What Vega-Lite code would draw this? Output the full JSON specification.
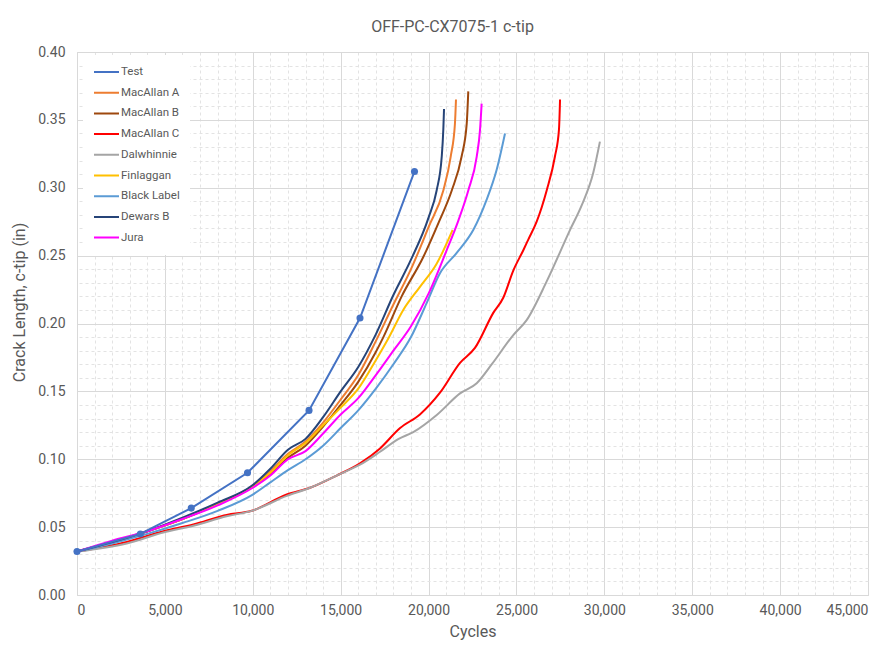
{
  "$schema": "https://vega.github.io/schema/vega-lite/v6.json",
  "width": 791,
  "height": 543,
  "autosize": {"type": "none"},
  "padding": {"left": 77, "top": 52, "right": 17, "bottom": 53},
  "background": "white",
  "title": {"text": "OFF-PC-CX7075-1 c-tip", "font": "Roboto", "fontSize": 16, "fontWeight": "normal", "color": "#595959", "anchor": "middle", "dx": -20, "offset": 10},
  "config": {
    "font": "Roboto",
    "view": {"stroke": "#d9d9d9", "strokeWidth": 1},
    "axis": {"labelFont": "Roboto", "titleFont": "Roboto", "labelColor": "#595959", "titleColor": "#595959", "labelFontSize": 14, "titleFontSize": 16, "titleFontWeight": "normal", "gridColor": "#d9d9d9", "gridWidth": 1, "domainColor": "#d9d9d9", "ticks": false}
  },
  "datasets": {
    "crack": [
      {"series": "Test", "cycles": 0, "c": 0.032},
      {"series": "Test", "cycles": 3600, "c": 0.045},
      {"series": "Test", "cycles": 6500, "c": 0.064},
      {"series": "Test", "cycles": 9700, "c": 0.090},
      {"series": "Test", "cycles": 13200, "c": 0.136},
      {"series": "Test", "cycles": 16100, "c": 0.204},
      {"series": "Test", "cycles": 19200, "c": 0.312},

      {"series": "MacAllan A", "cycles": 0, "c": 0.032},
      {"series": "MacAllan A", "cycles": 2000, "c": 0.039},
      {"series": "MacAllan A", "cycles": 4000, "c": 0.047},
      {"series": "MacAllan A", "cycles": 6000, "c": 0.056},
      {"series": "MacAllan A", "cycles": 8000, "c": 0.067},
      {"series": "MacAllan A", "cycles": 10000, "c": 0.080},
      {"series": "MacAllan A", "cycles": 11000, "c": 0.091},
      {"series": "MacAllan A", "cycles": 12000, "c": 0.104},
      {"series": "MacAllan A", "cycles": 13000, "c": 0.113},
      {"series": "MacAllan A", "cycles": 14000, "c": 0.127},
      {"series": "MacAllan A", "cycles": 15000, "c": 0.144},
      {"series": "MacAllan A", "cycles": 16000, "c": 0.162},
      {"series": "MacAllan A", "cycles": 17000, "c": 0.187},
      {"series": "MacAllan A", "cycles": 18000, "c": 0.214},
      {"series": "MacAllan A", "cycles": 19000, "c": 0.240},
      {"series": "MacAllan A", "cycles": 20000, "c": 0.271},
      {"series": "MacAllan A", "cycles": 20840, "c": 0.298},
      {"series": "MacAllan A", "cycles": 21260, "c": 0.323},
      {"series": "MacAllan A", "cycles": 21500, "c": 0.347},
      {"series": "MacAllan A", "cycles": 21560, "c": 0.365},

      {"series": "MacAllan B", "cycles": 0, "c": 0.032},
      {"series": "MacAllan B", "cycles": 2000, "c": 0.039},
      {"series": "MacAllan B", "cycles": 4000, "c": 0.047},
      {"series": "MacAllan B", "cycles": 6000, "c": 0.056},
      {"series": "MacAllan B", "cycles": 8000, "c": 0.067},
      {"series": "MacAllan B", "cycles": 10000, "c": 0.080},
      {"series": "MacAllan B", "cycles": 11000, "c": 0.089},
      {"series": "MacAllan B", "cycles": 12000, "c": 0.101},
      {"series": "MacAllan B", "cycles": 13000, "c": 0.110},
      {"series": "MacAllan B", "cycles": 14000, "c": 0.124},
      {"series": "MacAllan B", "cycles": 15000, "c": 0.140},
      {"series": "MacAllan B", "cycles": 16000, "c": 0.157},
      {"series": "MacAllan B", "cycles": 17000, "c": 0.179},
      {"series": "MacAllan B", "cycles": 17430, "c": 0.190},
      {"series": "MacAllan B", "cycles": 18470, "c": 0.220},
      {"series": "MacAllan B", "cycles": 19700, "c": 0.249},
      {"series": "MacAllan B", "cycles": 20560, "c": 0.274},
      {"series": "MacAllan B", "cycles": 21320, "c": 0.298},
      {"series": "MacAllan B", "cycles": 21880, "c": 0.323},
      {"series": "MacAllan B", "cycles": 22170, "c": 0.347},
      {"series": "MacAllan B", "cycles": 22260, "c": 0.371},

      {"series": "MacAllan C", "cycles": 0, "c": 0.032},
      {"series": "MacAllan C", "cycles": 2830, "c": 0.039},
      {"series": "MacAllan C", "cycles": 4910, "c": 0.047},
      {"series": "MacAllan C", "cycles": 6620, "c": 0.052},
      {"series": "MacAllan C", "cycles": 8510, "c": 0.059},
      {"series": "MacAllan C", "cycles": 9940, "c": 0.062},
      {"series": "MacAllan C", "cycles": 11930, "c": 0.074},
      {"series": "MacAllan C", "cycles": 13260, "c": 0.079},
      {"series": "MacAllan C", "cycles": 14770, "c": 0.088},
      {"series": "MacAllan C", "cycles": 16100, "c": 0.097},
      {"series": "MacAllan C", "cycles": 17240, "c": 0.108},
      {"series": "MacAllan C", "cycles": 18380, "c": 0.123},
      {"series": "MacAllan C", "cycles": 19510, "c": 0.133},
      {"series": "MacAllan C", "cycles": 20650, "c": 0.149},
      {"series": "MacAllan C", "cycles": 21790, "c": 0.171},
      {"series": "MacAllan C", "cycles": 22640, "c": 0.182},
      {"series": "MacAllan C", "cycles": 23690, "c": 0.208},
      {"series": "MacAllan C", "cycles": 24250, "c": 0.219},
      {"series": "MacAllan C", "cycles": 24820, "c": 0.239},
      {"series": "MacAllan C", "cycles": 25390, "c": 0.254},
      {"series": "MacAllan C", "cycles": 25680, "c": 0.262},
      {"series": "MacAllan C", "cycles": 26150, "c": 0.275},
      {"series": "MacAllan C", "cycles": 26720, "c": 0.298},
      {"series": "MacAllan C", "cycles": 27190, "c": 0.323},
      {"series": "MacAllan C", "cycles": 27420, "c": 0.343},
      {"series": "MacAllan C", "cycles": 27480, "c": 0.365},

      {"series": "Dalwhinnie", "cycles": 0, "c": 0.032},
      {"series": "Dalwhinnie", "cycles": 2830, "c": 0.038},
      {"series": "Dalwhinnie", "cycles": 4910, "c": 0.046},
      {"series": "Dalwhinnie", "cycles": 6620, "c": 0.051},
      {"series": "Dalwhinnie", "cycles": 8510, "c": 0.058},
      {"series": "Dalwhinnie", "cycles": 9940, "c": 0.062},
      {"series": "Dalwhinnie", "cycles": 11930, "c": 0.073},
      {"series": "Dalwhinnie", "cycles": 13260, "c": 0.079},
      {"series": "Dalwhinnie", "cycles": 14770, "c": 0.088},
      {"series": "Dalwhinnie", "cycles": 16100, "c": 0.096},
      {"series": "Dalwhinnie", "cycles": 17240, "c": 0.1055},
      {"series": "Dalwhinnie", "cycles": 18300, "c": 0.115},
      {"series": "Dalwhinnie", "cycles": 19130, "c": 0.120},
      {"series": "Dalwhinnie", "cycles": 20500, "c": 0.133},
      {"series": "Dalwhinnie", "cycles": 21790, "c": 0.1485},
      {"series": "Dalwhinnie", "cycles": 22740, "c": 0.156},
      {"series": "Dalwhinnie", "cycles": 23600, "c": 0.170},
      {"series": "Dalwhinnie", "cycles": 24820, "c": 0.1915},
      {"series": "Dalwhinnie", "cycles": 25580, "c": 0.2025},
      {"series": "Dalwhinnie", "cycles": 26720, "c": 0.231},
      {"series": "Dalwhinnie", "cycles": 28050, "c": 0.269},
      {"series": "Dalwhinnie", "cycles": 28710, "c": 0.287},
      {"series": "Dalwhinnie", "cycles": 29370, "c": 0.311},
      {"series": "Dalwhinnie", "cycles": 29750, "c": 0.334},

      {"series": "Finlaggan", "cycles": 0, "c": 0.032},
      {"series": "Finlaggan", "cycles": 2000, "c": 0.039},
      {"series": "Finlaggan", "cycles": 4000, "c": 0.047},
      {"series": "Finlaggan", "cycles": 6000, "c": 0.056},
      {"series": "Finlaggan", "cycles": 8000, "c": 0.067},
      {"series": "Finlaggan", "cycles": 10000, "c": 0.080},
      {"series": "Finlaggan", "cycles": 11000, "c": 0.090},
      {"series": "Finlaggan", "cycles": 12000, "c": 0.103},
      {"series": "Finlaggan", "cycles": 13000, "c": 0.112},
      {"series": "Finlaggan", "cycles": 14000, "c": 0.125},
      {"series": "Finlaggan", "cycles": 15000, "c": 0.138},
      {"series": "Finlaggan", "cycles": 16000, "c": 0.152},
      {"series": "Finlaggan", "cycles": 17000, "c": 0.173},
      {"series": "Finlaggan", "cycles": 17710, "c": 0.189},
      {"series": "Finlaggan", "cycles": 18560, "c": 0.210},
      {"series": "Finlaggan", "cycles": 19510, "c": 0.227},
      {"series": "Finlaggan", "cycles": 20460, "c": 0.244},
      {"series": "Finlaggan", "cycles": 21370, "c": 0.269},

      {"series": "Black Label", "cycles": 0, "c": 0.032},
      {"series": "Black Label", "cycles": 2000, "c": 0.038},
      {"series": "Black Label", "cycles": 4000, "c": 0.045},
      {"series": "Black Label", "cycles": 6000, "c": 0.053},
      {"series": "Black Label", "cycles": 8000, "c": 0.062},
      {"series": "Black Label", "cycles": 10000, "c": 0.074},
      {"series": "Black Label", "cycles": 11000, "c": 0.083},
      {"series": "Black Label", "cycles": 12000, "c": 0.092},
      {"series": "Black Label", "cycles": 13000, "c": 0.100},
      {"series": "Black Label", "cycles": 14000, "c": 0.110},
      {"series": "Black Label", "cycles": 15000, "c": 0.123},
      {"series": "Black Label", "cycles": 16000, "c": 0.136},
      {"series": "Black Label", "cycles": 17000, "c": 0.152},
      {"series": "Black Label", "cycles": 18000, "c": 0.170},
      {"series": "Black Label", "cycles": 19000, "c": 0.190},
      {"series": "Black Label", "cycles": 19890, "c": 0.215},
      {"series": "Black Label", "cycles": 20650, "c": 0.237},
      {"series": "Black Label", "cycles": 21600, "c": 0.252},
      {"series": "Black Label", "cycles": 22550, "c": 0.269},
      {"series": "Black Label", "cycles": 23300, "c": 0.291},
      {"series": "Black Label", "cycles": 23870, "c": 0.313},
      {"series": "Black Label", "cycles": 24350, "c": 0.340},

      {"series": "Dewars B", "cycles": 0, "c": 0.032},
      {"series": "Dewars B", "cycles": 2000, "c": 0.039},
      {"series": "Dewars B", "cycles": 4000, "c": 0.047},
      {"series": "Dewars B", "cycles": 6000, "c": 0.057},
      {"series": "Dewars B", "cycles": 8000, "c": 0.068},
      {"series": "Dewars B", "cycles": 10000, "c": 0.081},
      {"series": "Dewars B", "cycles": 11000, "c": 0.093},
      {"series": "Dewars B", "cycles": 12000, "c": 0.107},
      {"series": "Dewars B", "cycles": 13000, "c": 0.115},
      {"series": "Dewars B", "cycles": 14000, "c": 0.131},
      {"series": "Dewars B", "cycles": 15000, "c": 0.150},
      {"series": "Dewars B", "cycles": 16000, "c": 0.168},
      {"series": "Dewars B", "cycles": 17000, "c": 0.192},
      {"series": "Dewars B", "cycles": 18000, "c": 0.221},
      {"series": "Dewars B", "cycles": 19000, "c": 0.247},
      {"series": "Dewars B", "cycles": 20000, "c": 0.278},
      {"series": "Dewars B", "cycles": 20460, "c": 0.298},
      {"series": "Dewars B", "cycles": 20750, "c": 0.323},
      {"series": "Dewars B", "cycles": 20840, "c": 0.343},
      {"series": "Dewars B", "cycles": 20880, "c": 0.358},

      {"series": "Jura", "cycles": 0, "c": 0.032},
      {"series": "Jura", "cycles": 2000, "c": 0.040},
      {"series": "Jura", "cycles": 4000, "c": 0.047},
      {"series": "Jura", "cycles": 6000, "c": 0.056},
      {"series": "Jura", "cycles": 8000, "c": 0.066},
      {"series": "Jura", "cycles": 10000, "c": 0.079},
      {"series": "Jura", "cycles": 11000, "c": 0.088},
      {"series": "Jura", "cycles": 12000, "c": 0.100},
      {"series": "Jura", "cycles": 13000, "c": 0.106},
      {"series": "Jura", "cycles": 14000, "c": 0.119},
      {"series": "Jura", "cycles": 15000, "c": 0.133},
      {"series": "Jura", "cycles": 16000, "c": 0.145},
      {"series": "Jura", "cycles": 17000, "c": 0.162},
      {"series": "Jura", "cycles": 18000, "c": 0.180},
      {"series": "Jura", "cycles": 19000, "c": 0.198},
      {"series": "Jura", "cycles": 20000, "c": 0.222},
      {"series": "Jura", "cycles": 21000, "c": 0.253},
      {"series": "Jura", "cycles": 21700, "c": 0.276},
      {"series": "Jura", "cycles": 22260, "c": 0.298},
      {"series": "Jura", "cycles": 22740, "c": 0.323},
      {"series": "Jura", "cycles": 22930, "c": 0.343},
      {"series": "Jura", "cycles": 23020, "c": 0.362}
    ]
  },
  "data": {"name": "crack"},
  "layer": [
    {
      "transform": [{"filter": "datum.series !== 'Test'"}],
      "mark": {"type": "line", "strokeWidth": 2, "interpolate": "monotone"},
      "encoding": {
        "x": {"field": "cycles", "type": "quantitative", "scale": {"domain": [0, 45000], "nice": false}, "axis": {"title": "Cycles", "values": [0,5000,10000,15000,20000,25000,30000,35000,40000,45000], "format": ",.0f", "labelPadding": 8, "titlePadding": 6, "gridColor": "#d9d9d9"}},
        "y": {"field": "c", "type": "quantitative", "scale": {"domain": [0, 0.4], "nice": false}, "axis": {"title": "Crack Length, c-tip (in)", "values": [0,0.05,0.1,0.15,0.2,0.25,0.3,0.35,0.4], "format": ".2f", "labelPadding": 12, "titlePadding": 10, "titleY": 250, "domain": false}},
        "color": {"field": "series", "type": "nominal", "sort": null,
          "scale": {"domain": ["Test","MacAllan A","MacAllan B","MacAllan C","Dalwhinnie","Finlaggan","Black Label","Dewars B","Jura"],
                    "range": ["#4472C4","#ED7D31","#9E480E","#FF0000","#A5A5A5","#FFC000","#5B9BD5","#264478","#FF00FF"]},
          "legend": {"title": null, "orient": "none", "legendX": 6, "legendY": 3, "padding": 10, "fillColor": "white", "symbolType": "stroke", "symbolSize": 625, "symbolStrokeWidth": 2, "labelFont": "Roboto", "labelFontSize": 11.5, "labelColor": "#595959", "labelOffset": 1, "clipHeight": 14, "rowPadding": 6.7}},
        "order": {"field": "cycles", "type": "quantitative"}
      }
    },
    {
      "transform": [{"filter": "datum.series === 'Test'"}],
      "mark": {"type": "line", "strokeWidth": 2},
      "encoding": {
        "x": {"field": "cycles", "type": "quantitative", "axis": null},
        "y": {"field": "c", "type": "quantitative", "axis": null},
        "color": {"field": "series", "type": "nominal", "sort": null},
        "order": {"field": "cycles", "type": "quantitative"}
      }
    },
    {
      "transform": [{"filter": "datum.series === 'Test'"}],
      "mark": {"type": "point", "filled": true, "size": 50, "opacity": 1, "color": "#4472C4"},
      "encoding": {
        "x": {"field": "cycles", "type": "quantitative", "axis": {"orient": "top", "values": [1000,2000,3000,4000,6000,7000,8000,9000,11000,12000,13000,14000,16000,17000,18000,19000,21000,22000,23000,24000,26000,27000,28000,29000,31000,32000,33000,34000,36000,37000,38000,39000,41000,42000,43000,44000], "labels": false, "domain": false, "ticks": false, "title": null, "grid": true, "gridColor": "#e3e3e3", "gridDash": [3,3]}},
        "y": {"field": "c", "type": "quantitative", "axis": {"orient": "right", "values": [0.01,0.02,0.03,0.04,0.06,0.07,0.08,0.09,0.11,0.12,0.13,0.14,0.16,0.17,0.18,0.19,0.21,0.22,0.23,0.24,0.26,0.27,0.28,0.29,0.31,0.32,0.33,0.34,0.36,0.37,0.38,0.39], "labels": false, "domain": false, "ticks": false, "title": null, "grid": true, "gridColor": "#e3e3e3", "gridDash": [3,3]}}
      }
    }
  ],
  "resolve": {"axis": {"x": "independent", "y": "independent"}}
}
